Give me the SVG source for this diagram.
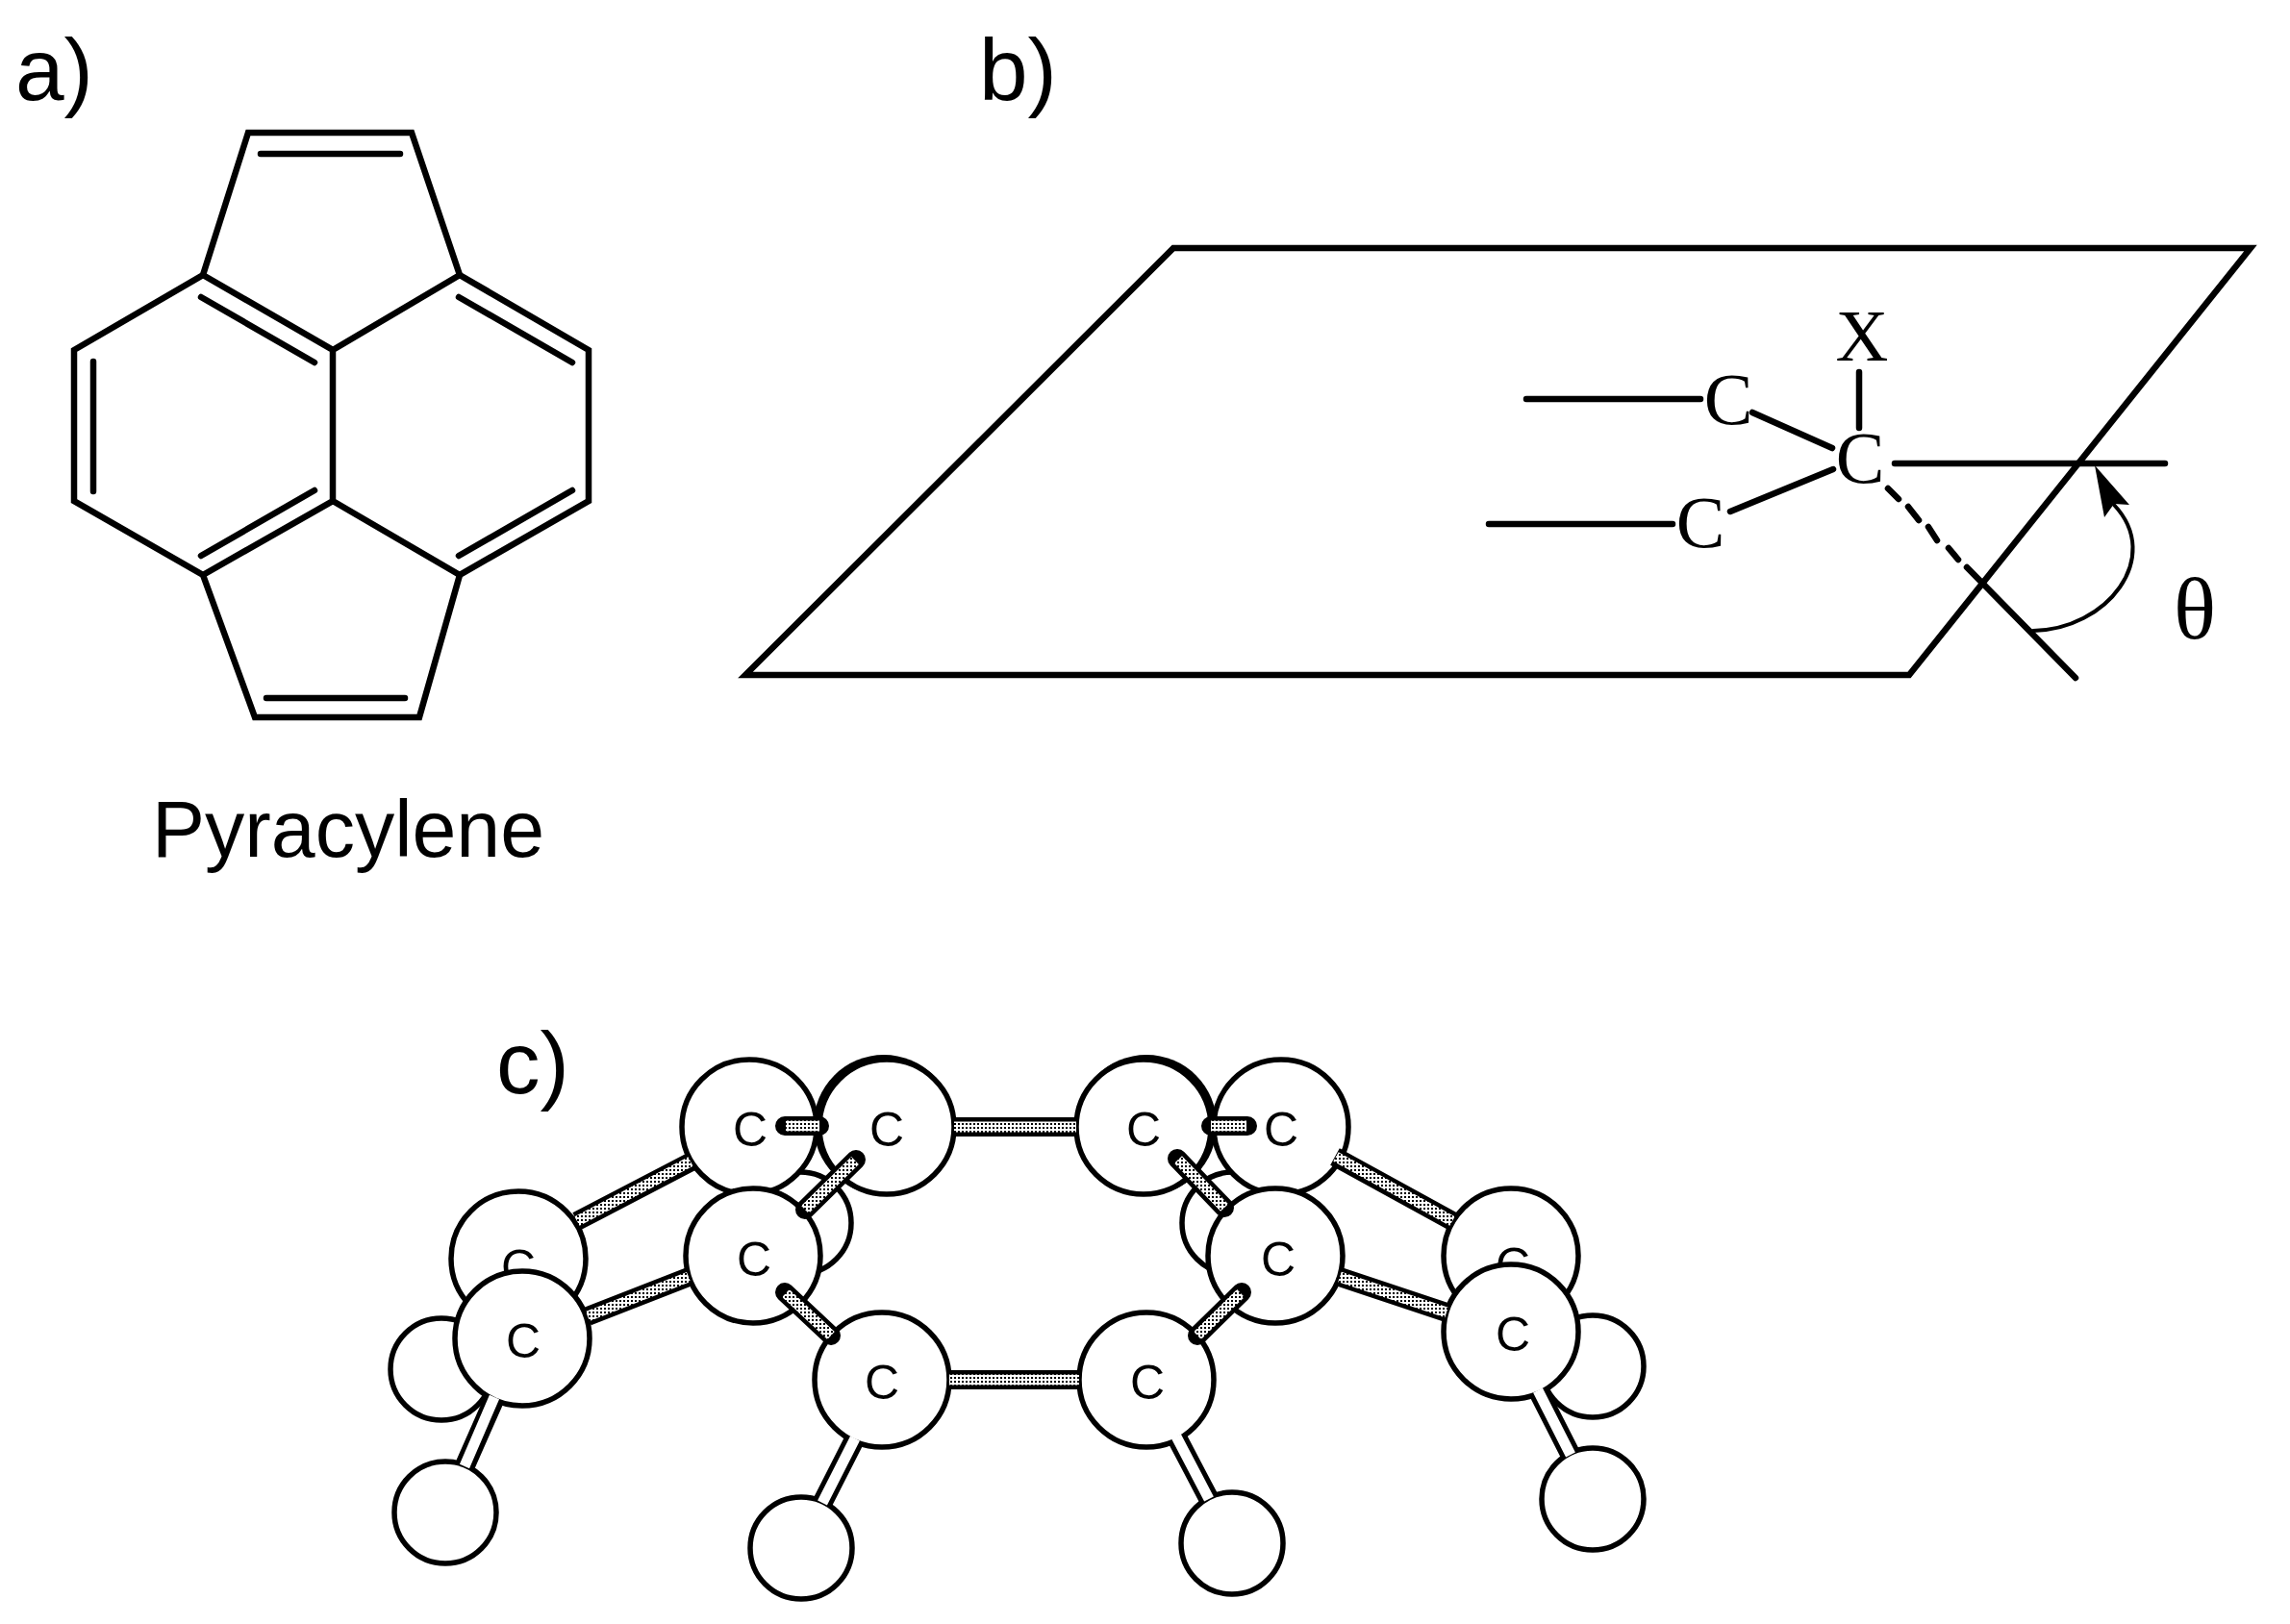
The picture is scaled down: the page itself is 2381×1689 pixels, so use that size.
<svg xmlns="http://www.w3.org/2000/svg" width="2381" height="1689" viewBox="0 0 2381 1689">
<style>
.l{fill:none;stroke:#000;stroke-width:6.5;stroke-linecap:round;stroke-linejoin:miter}
.a{fill:#fff;stroke:#000;stroke-width:5.5}
.k{fill:#000}
.h{font-family:"Liberation Sans",Arial,sans-serif;font-size:91px;fill:#000}
.c{font-family:"Liberation Sans",Arial,sans-serif;font-size:50px;fill:#000;text-anchor:middle}
.s{font-family:"Liberation Serif","Times New Roman",serif;font-size:76px;fill:#000;text-anchor:middle}
.b{fill:none;stroke:#000;stroke-width:20;stroke-linecap:butt}
.br{fill:none;stroke:#000;stroke-width:20;stroke-linecap:round}
.bi{fill:none;stroke:url(#dots);stroke-width:11;stroke-linecap:butt}
.wo{fill:none;stroke:#000;stroke-width:21;stroke-linecap:butt}
.wi{fill:none;stroke:#fff;stroke-width:11;stroke-linecap:butt}
</style>
<defs><pattern id="dots" width="4" height="4" patternUnits="userSpaceOnUse"><rect width="4" height="4" fill="#fff"/><rect width="2" height="2" fill="#000"/></pattern></defs>
<rect width="2381" height="1689" fill="#fff"/>
<text class="h" x="16" y="104">a)</text>
<text class="h" x="1018" y="104">b)</text>
<text class="h" x="516" y="1137">c)</text>
<text class="h" x="158" y="891" style="font-size:82.5px">Pyracylene</text>
<g id="pyracylene" class="l">
<path d="M258 138H428L478 286L612 364V521L478 598L436 746H265L211 598L77 521V364L211 286Z"/>
<path d="M211 286L346 364V521L211 598M346 364L478 286M346 521L478 598"/>
<path d="M271 160H416M277 726H421M97 376V511M209 309L327 377M477 309L595 377M209 578L327 510M477 578L595 510"/>
</g>
<g id="plane" class="l"><path d="M775 702H1985L2340 258H1220Z"/></g>
<g id="substituent" class="l">
<path d="M1587 415H1768M1548 545H1739M1933 387V445M1822 429L1905 466M1799 532L1906 488M1970 482H2251"/>
<path d="M1963 508L1974 519M1984 527L1995 541M2005 548L2014 562M2026 570L2036 582M2045 590L2158 705"/>
<path d="M2114 656C2190 655 2250 580 2198 525" style="stroke-width:4"/>
<path d="M2178 484L2214 525L2198 524L2188 538Z" class="k" style="stroke:none"/>
</g>
<text class="s" x="1797" y="441">C</text>
<text class="s" x="1768" y="569">C</text>
<text class="s" x="1934" y="502">C</text>
<text class="s" x="1936" y="375">X</text>
<text class="s" x="2282" y="664" style="font-size:92px">θ</text>
<g id="atom-h1"><circle class="a" cx="832" cy="1272" r="53"/></g>
<g id="atom-h2"><circle class="a" cx="1282" cy="1272" r="53"/></g>
<g id="atom-h3"><circle class="a" cx="459" cy="1424" r="53"/></g>
<g id="atom-h4"><circle class="a" cx="1656" cy="1421" r="53"/></g>
<g id="atom-h5"><circle class="a" cx="463" cy="1573" r="53"/></g>
<g id="atom-h6"><circle class="a" cx="833" cy="1610" r="53"/></g>
<g id="atom-h7"><circle class="a" cx="1281" cy="1605" r="53"/></g>
<g id="atom-h8"><circle class="a" cx="1656" cy="1559" r="53"/></g>
<g id="atom-c5"><circle class="a" cx="539" cy="1309" r="70"/><text class="c" x="539" y="1335">C</text></g>
<g id="atom-c6"><circle class="a" cx="1571" cy="1306" r="70"/><text class="c" x="1573" y="1333">C</text></g>
<g id="atom-c1"><circle class="a" cx="779" cy="1172" r="70"/><text class="c" x="780" y="1192">C</text></g>
<g id="atom-c4"><circle class="a" cx="1332" cy="1172" r="70"/><text class="c" x="1332" y="1192">C</text></g>
<g id="atom-c2"><circle class="k" cx="919" cy="1170" r="73"/><circle class="a" cx="922" cy="1172" r="70"/><text class="c" x="922" y="1192">C</text></g>
<g id="atom-c3"><circle class="k" cx="1192" cy="1170" r="73"/><circle class="a" cx="1189" cy="1172" r="70"/><text class="c" x="1189" y="1192">C</text></g>
<g id="atom-c7"><circle class="a" cx="783" cy="1306" r="70"/><text class="c" x="784" y="1327">C</text></g>
<g id="atom-c8"><circle class="a" cx="1326" cy="1306" r="70"/><text class="c" x="1329" y="1327">C</text></g>
<g id="atom-c9"><circle class="a" cx="917" cy="1435" r="70"/><text class="c" x="917" y="1455">C</text></g>
<g id="atom-c10"><circle class="a" cx="1192" cy="1435" r="70"/><text class="c" x="1193" y="1455">C</text></g>
<g id="atom-c11"><circle class="a" cx="543" cy="1392" r="70"/><text class="c" x="544" y="1412">C</text></g>
<g id="atom-c12"><circle class="a" cx="1571" cy="1385" r="70"/><text class="c" x="1573" y="1405">C</text></g>
<g id="connectors">
<path class="br" d="M816 1171H852M1297 1171H1259M890 1206L837 1258M1224 1205L1273 1256M816 1344L864 1389M1291 1344L1245 1389"/>
<path class="b" d="M992 1172H1119M987 1435H1122M719 1208L600 1270M716 1328L611 1369M1388 1203L1510 1270M1393 1328L1504 1365"/>
<path class="bi" d="M817 1171H852M1296 1171H1259M889 1207L837 1258M1225 1206L1273 1256M817 1345L864 1389M1290 1345L1245 1389M992 1172H1119M987 1435H1122M718 1208L600 1270M716 1328L611 1369M1389 1203L1510 1270M1393 1328L1504 1365"/>
<path class="wo" d="M514 1455L484 1523M888 1498L856 1561M1224 1496L1256 1557M1600 1448L1632 1511"/>
<path class="wi" d="M514 1453L483 1525M889 1496L855 1563M1223 1494L1257 1559M1599 1446L1633 1513"/>
</g>
</svg>
